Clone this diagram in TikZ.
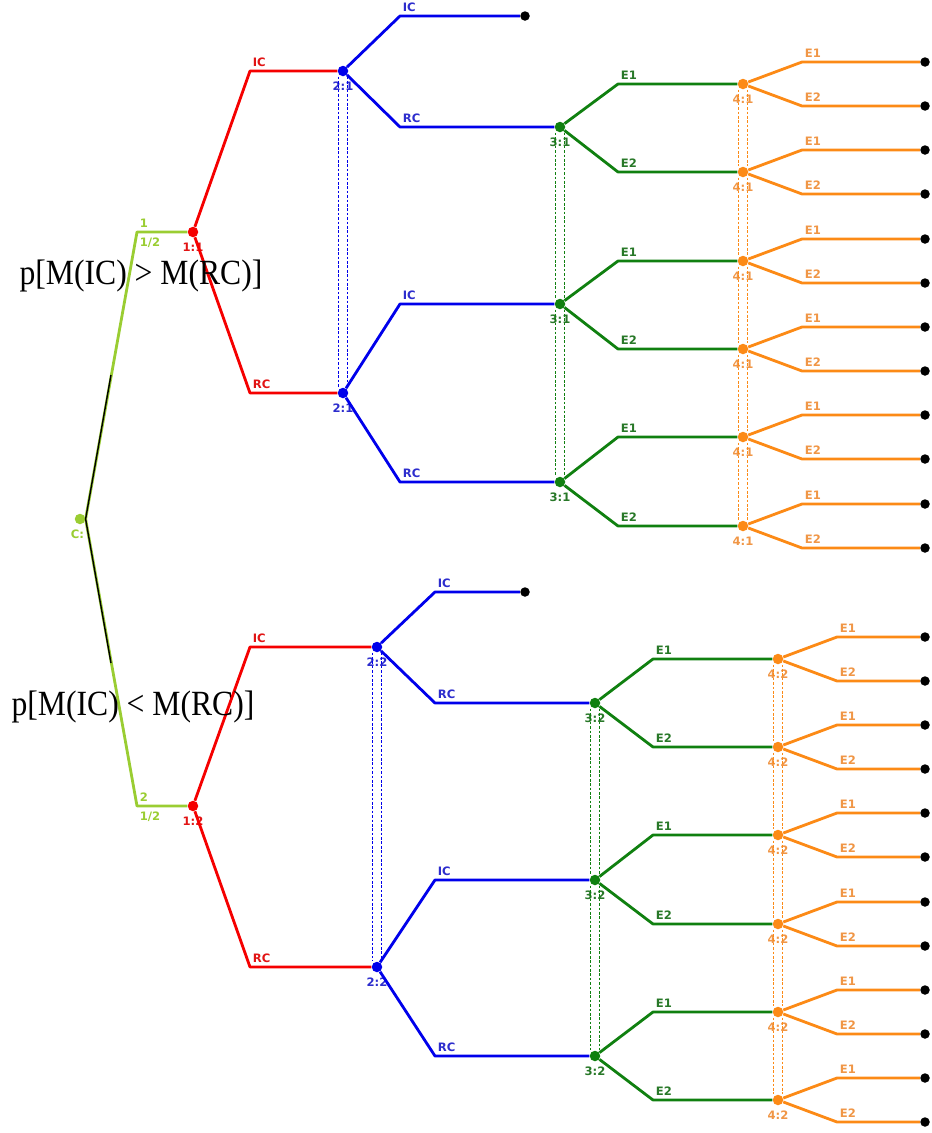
\documentclass[tikz,border=0pt]{standalone}
\usepackage{fontspec}
\setmainfont{Liberation Serif}
\newfontfamily\tagfont{DejaVu Sans Bold}

\begin{document}
\begin{tikzpicture}[x=0.02cm,y=-0.02cm]
      % Define sizes
      \def\dotsize{0.21}
      \def\leafsize{0.19}

      % Define colors
      \definecolor{nature}{RGB}{154,205,50}
      \definecolor{firstmove}{RGB}{245,0,0}
      \definecolor{secondmove}{RGB}{0,0,235}
      \definecolor{thirdmove}{RGB}{16,128,16}
      \definecolor{fourthmove}{RGB}{252,138,22}
      \definecolor{firsttag}{RGB}{225,20,20}
      \definecolor{secondtag}{RGB}{45,45,205}
      \definecolor{thirdtag}{RGB}{40,120,40}
      \definecolor{fourthtag}{RGB}{240,150,70}

      \tikzset{
        decision/.style={circle, fill=#1, inner sep=0pt, minimum size=\dotsize cm},
        leaf/.style={circle, fill=black, inner sep=0pt, minimum size=\leafsize cm},
        limb/.style={draw=#1, line width=1.6pt, line join=round},
        infoset/.style={draw=#1, line width=0.5pt, dash pattern=on 1.5pt off 1pt},
        movetag/.style={font=\tagfont\fontsize{6.6}{7}\selectfont, text=#1, inner sep=0pt, anchor=base west, xshift=0.05cm, yshift=0.09cm},
        playertag/.style={font=\tagfont\fontsize{6.6}{7}\selectfont, text=#1, inner sep=0pt, label distance=3pt},
        claim/.style={font=\fontsize{18}{22}\selectfont, inner sep=0pt}
      }

      \useasboundingbox (0,0) rectangle (931,1133);

      % Chance node
      \node[decision=nature, label={[playertag=nature, xshift=-0.05cm]below:{C:}}] (C) at (80,519) {};
      \coordinate (g1) at (137,232);
      \coordinate (g2) at (137,806);

      % First movers
      \node[decision=firstmove, label={[playertag=firsttag]below:{1:1}}] (n11) at (193,232) {};
      \node[decision=firstmove, label={[playertag=firsttag]below:{1:2}}] (n12) at (193,806) {};

      % Chance branches
      \draw[limb=nature] (C.east) -- (g1) -- (n11);
      \draw[limb=nature] (C.east) -- (g2) -- (n12);
      \coordinate (s1) at (111,375);
      \coordinate (s2) at (111,663);
      \draw[line width=0.8pt] (s1) -- (C.east) -- (s2);
      \node[movetag=nature] at (g1) {1};
      \node[movetag=nature, anchor=north west, yshift=-0.21cm] at (g1) {1/2};
      \node[movetag=nature] at (g2) {2};
      \node[movetag=nature, anchor=north west, yshift=-0.21cm] at (g2) {1/2};

      % Second movers
      \node[decision=secondmove, label={[playertag=secondtag]below:{2:1}}] (n21a) at (343,71) {};
      \node[decision=secondmove, label={[playertag=secondtag]below:{2:1}}] (n21b) at (343,393) {};
      \node[decision=secondmove, label={[playertag=secondtag]below:{2:2}}] (n22a) at (377,647) {};
      \node[decision=secondmove, label={[playertag=secondtag]below:{2:2}}] (n22b) at (377,967) {};

      % Red branches
      \coordinate (r1) at (250,71);
      \coordinate (r2) at (250,393);
      \coordinate (r3) at (250,647);
      \coordinate (r4) at (250,967);
      \draw[limb=firstmove] (n11) -- (r1) -- (n21a);
      \draw[limb=firstmove] (n11) -- (r2) -- (n21b);
      \draw[limb=firstmove] (n12) -- (r3) -- (n22a);
      \draw[limb=firstmove] (n12) -- (r4) -- (n22b);
      \node[movetag=firsttag] at (r1) {IC};
      \node[movetag=firsttag] at (r2) {RC};
      \node[movetag=firsttag] at (r3) {IC};
      \node[movetag=firsttag] at (r4) {RC};

      % Third movers
      \node[decision=thirdmove, label={[playertag=thirdtag]below:{3:1}}] (n31a) at (560,127) {};
      \node[decision=thirdmove, label={[playertag=thirdtag]below:{3:1}}] (n31b) at (560,304) {};
      \node[decision=thirdmove, label={[playertag=thirdtag]below:{3:1}}] (n31c) at (560,482) {};
      \node[decision=thirdmove, label={[playertag=thirdtag]below:{3:2}}] (n32a) at (595,703) {};
      \node[decision=thirdmove, label={[playertag=thirdtag]below:{3:2}}] (n32b) at (595,880) {};
      \node[decision=thirdmove, label={[playertag=thirdtag]below:{3:2}}] (n32c) at (595,1056) {};
      \node[leaf] (t1) at (525,16) {};
      \node[leaf] (t2) at (525,592) {};

      % Blue branches
      \coordinate (b1) at (400,16);
      \coordinate (b2) at (400,127);
      \coordinate (b3) at (400,304);
      \coordinate (b4) at (400,482);
      \coordinate (b5) at (435,592);
      \coordinate (b6) at (435,703);
      \coordinate (b7) at (435,880);
      \coordinate (b8) at (435,1056);
      \draw[limb=secondmove] (n21a) -- (b1) -- (t1);
      \draw[limb=secondmove] (n21a) -- (b2) -- (n31a);
      \draw[limb=secondmove] (n21b) -- (b3) -- (n31b);
      \draw[limb=secondmove] (n21b) -- (b4) -- (n31c);
      \draw[limb=secondmove] (n22a) -- (b5) -- (t2);
      \draw[limb=secondmove] (n22a) -- (b6) -- (n32a);
      \draw[limb=secondmove] (n22b) -- (b7) -- (n32b);
      \draw[limb=secondmove] (n22b) -- (b8) -- (n32c);
      \node[movetag=secondtag] at (b1) {IC};
      \node[movetag=secondtag] at (b2) {RC};
      \node[movetag=secondtag] at (b3) {IC};
      \node[movetag=secondtag] at (b4) {RC};
      \node[movetag=secondtag] at (b5) {IC};
      \node[movetag=secondtag] at (b6) {RC};
      \node[movetag=secondtag] at (b7) {IC};
      \node[movetag=secondtag] at (b8) {RC};

      % Fourth movers
      \node[decision=fourthmove, label={[playertag=fourthtag]below:{4:1}}] (n41a) at (743,84) {};
      \node[decision=fourthmove, label={[playertag=fourthtag]below:{4:1}}] (n41b) at (743,172) {};
      \node[decision=fourthmove, label={[playertag=fourthtag]below:{4:1}}] (n41c) at (743,261) {};
      \node[decision=fourthmove, label={[playertag=fourthtag]below:{4:1}}] (n41d) at (743,349) {};
      \node[decision=fourthmove, label={[playertag=fourthtag]below:{4:1}}] (n41e) at (743,437) {};
      \node[decision=fourthmove, label={[playertag=fourthtag]below:{4:1}}] (n41f) at (743,526) {};
      \node[decision=fourthmove, label={[playertag=fourthtag]below:{4:2}}] (n42a) at (778,659) {};
      \node[decision=fourthmove, label={[playertag=fourthtag]below:{4:2}}] (n42b) at (778,747) {};
      \node[decision=fourthmove, label={[playertag=fourthtag]below:{4:2}}] (n42c) at (778,835) {};
      \node[decision=fourthmove, label={[playertag=fourthtag]below:{4:2}}] (n42d) at (778,924) {};
      \node[decision=fourthmove, label={[playertag=fourthtag]below:{4:2}}] (n42e) at (778,1012) {};
      \node[decision=fourthmove, label={[playertag=fourthtag]below:{4:2}}] (n42f) at (778,1100) {};

      % Green branches
      \coordinate (e1) at (618,84);
      \coordinate (e2) at (618,172);
      \coordinate (e3) at (618,261);
      \coordinate (e4) at (618,349);
      \coordinate (e5) at (618,437);
      \coordinate (e6) at (618,526);
      \coordinate (e7) at (653,659);
      \coordinate (e8) at (653,747);
      \coordinate (e9) at (653,835);
      \coordinate (e10) at (653,924);
      \coordinate (e11) at (653,1012);
      \coordinate (e12) at (653,1100);
      \draw[limb=thirdmove] (n31a) -- (e1) -- (n41a);
      \draw[limb=thirdmove] (n31a) -- (e2) -- (n41b);
      \draw[limb=thirdmove] (n31b) -- (e3) -- (n41c);
      \draw[limb=thirdmove] (n31b) -- (e4) -- (n41d);
      \draw[limb=thirdmove] (n31c) -- (e5) -- (n41e);
      \draw[limb=thirdmove] (n31c) -- (e6) -- (n41f);
      \draw[limb=thirdmove] (n32a) -- (e7) -- (n42a);
      \draw[limb=thirdmove] (n32a) -- (e8) -- (n42b);
      \draw[limb=thirdmove] (n32b) -- (e9) -- (n42c);
      \draw[limb=thirdmove] (n32b) -- (e10) -- (n42d);
      \draw[limb=thirdmove] (n32c) -- (e11) -- (n42e);
      \draw[limb=thirdmove] (n32c) -- (e12) -- (n42f);
      \foreach \k in {1,3,5,7,9,11} \node[movetag=thirdtag] at (e\k) {E1};
      \foreach \k in {2,4,6,8,10,12} \node[movetag=thirdtag] at (e\k) {E2};

      % Orange branches to the leaves
      \coordinate (rim) at (925,0);
      \foreach \nd in {n41a,n41b,n41c,n41d,n41e,n41f,n42a,n42b,n42c,n42d,n42e,n42f}{
        \coordinate (\nd-up) at ([shift={(59,-22)}]\nd.center);
        \coordinate (\nd-dn) at ([shift={(59,22)}]\nd.center);
        \node[leaf] (\nd-t1) at (\nd-up -| rim) {};
        \node[leaf] (\nd-t2) at (\nd-dn -| rim) {};
        \draw[limb=fourthmove] (\nd) -- (\nd-up) -- (\nd-t1);
        \draw[limb=fourthmove] (\nd) -- (\nd-dn) -- (\nd-t2);
        \node[movetag=fourthtag] at (\nd-up) {E1};
        \node[movetag=fourthtag] at (\nd-dn) {E2};
      }

      % Information sets
      \foreach \a/\b/\c in {n21a/n21b/secondmove, n22a/n22b/secondmove,
          n31a/n31b/thirdmove, n31b/n31c/thirdmove, n32a/n32b/thirdmove, n32b/n32c/thirdmove,
          n41a/n41b/fourthmove, n41b/n41c/fourthmove, n41c/n41d/fourthmove, n41d/n41e/fourthmove, n41e/n41f/fourthmove,
          n42a/n42b/fourthmove, n42b/n42c/fourthmove, n42c/n42d/fourthmove, n42d/n42e/fourthmove, n42e/n42f/fourthmove}{
        \draw[infoset=\c] ([xshift=-0.09cm]\a.south) -- ([xshift=-0.09cm]\b.north);
        \draw[infoset=\c] ([xshift=0.09cm]\a.south) -- ([xshift=0.09cm]\b.north);
      }

      % Labels
      \node[claim] (upper) at (141,276) {\scalebox{1}[1.12]{p[M(IC) \textgreater{} M(RC)]}};
      \node[claim] (lower) at (133,707) {\scalebox{1}[1.12]{p[M(IC) \textless{} M(RC)]}};

\end{tikzpicture}
\end{document}
